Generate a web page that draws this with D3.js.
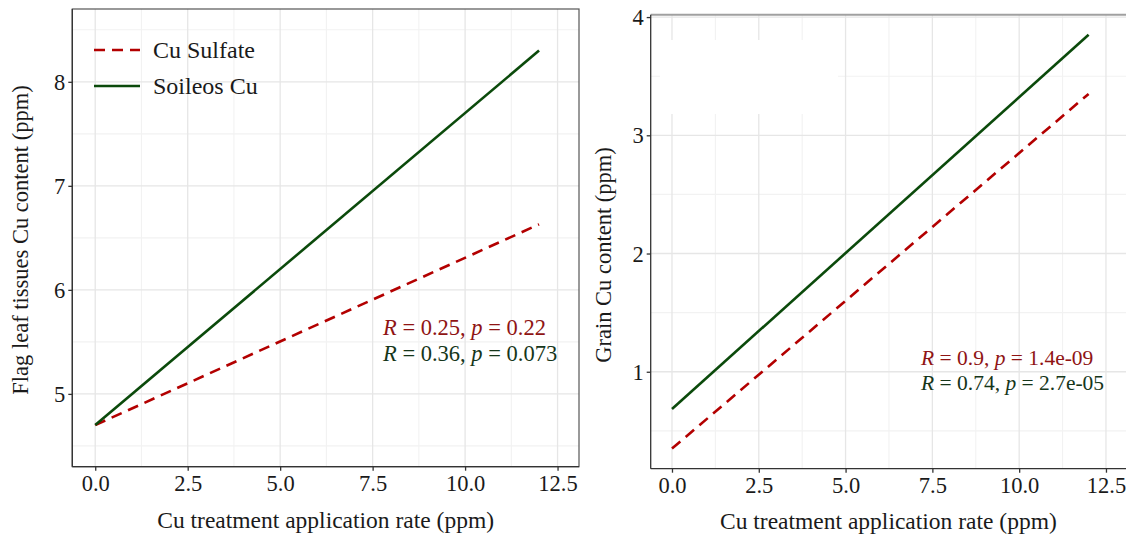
<!DOCTYPE html>
<html>
<head>
<meta charset="utf-8">
<script src="https://cdn.jsdelivr.net/npm/d3@7"></script>
<style>
  html, body { margin: 0; padding: 0; background: #fff; }
  svg { display: block; }
  text { font-family: "Liberation Serif", "DejaVu Serif", serif; }
</style>
</head>
<body>
<svg id="chart" width="1126" height="536"></svg>
<script>
// ---- data ----
const seriesNames = ["Cu Sulfate", "Soileos Cu"];
const xEnds = [0, 12];
const leafSulfate = [4.70, 6.63];
const leafSoileos = [4.70, 8.30];
const grainSulfate = [0.35, 3.35];
const grainSoileos = [0.685, 3.85];
const xTicks = [0, 2.5, 5, 7.5, 10, 12.5];
const xMinor = [1.25, 3.75, 6.25, 8.75, 11.25];
const leafTicks = [5, 6, 7, 8];
const leafMinor = [4.5, 5.5, 6.5, 7.5, 8.5];
const grainTicks = [1, 2, 3, 4];
const grainMinor = [0.5, 1.5, 2.5, 3.5];
const leafStats = ["0.25", "0.22", "0.36", "0.073"];
const grainStats = ["0.9", "1.4e-09", "0.74", "2.7e-05"];
const xTitle = "Cu treatment application rate (ppm)";
const leafTitle = "Flag leaf tissues Cu content (ppm)";
const grainTitle = "Grain Cu content (ppm)";

const RED = "#b30000", GREEN = "#0b4a0b";
const RED_T = "#8f1414", GREEN_T = "#16361a";
const svg = d3.select("#chart");

function panel(cfg) {
  const { x, y, left, right, top, bottom } = cfg;
  const g = svg.append("g");
  // minor grid
  g.selectAll(".vmin").data(cfg.xMinor).join("line")
    .attr("x1", d => x(d)).attr("x2", d => x(d)).attr("y1", top).attr("y2", bottom)
    .attr("stroke", "#f2f2f2").attr("stroke-width", 1.1);
  g.selectAll(".hmin").data(cfg.yMinor).join("line")
    .attr("x1", left).attr("x2", right).attr("y1", d => y(d)).attr("y2", d => y(d))
    .attr("stroke", "#f2f2f2").attr("stroke-width", 1.1);
  // major grid
  g.selectAll(".vmaj").data(cfg.xTicks).join("line")
    .attr("x1", d => x(d)).attr("x2", d => x(d)).attr("y1", top).attr("y2", bottom)
    .attr("stroke", "#e6e6e6").attr("stroke-width", 1.3);
  g.selectAll(".hmaj").data(cfg.yTicks).join("line")
    .attr("x1", left).attr("x2", right).attr("y1", d => y(d)).attr("y2", d => y(d))
    .attr("stroke", "#e6e6e6").attr("stroke-width", 1.3);
  if (cfg.mask) {
    g.append("rect").attr("x", cfg.mask[0]).attr("y", cfg.mask[1])
      .attr("width", cfg.mask[2]).attr("height", cfg.mask[3]).attr("fill", "#fff");
  }
  // lines
  const line = d3.line().x(d => x(d[0])).y(d => y(d[1]));
  g.append("path").datum(xEnds.map((v, i) => [v, cfg.sulfate[i]]))
    .attr("d", line).attr("fill", "none").attr("stroke", RED)
    .attr("stroke-width", 2.6).attr("stroke-dasharray", "11,7");
  g.append("path").datum(xEnds.map((v, i) => [v, cfg.soileos[i]]))
    .attr("d", line).attr("fill", "none").attr("stroke", GREEN)
    .attr("stroke-width", 2.6);
  // border
  if (cfg.fullBorder) {
    g.append("rect").attr("x", left).attr("y", top).attr("width", right - left).attr("height", bottom - top)
      .attr("fill", "none").attr("stroke", "#555").attr("stroke-width", 1.2);
  } else {
    g.append("line").attr("x1", left).attr("x2", right).attr("y1", top).attr("y2", top)
      .attr("stroke", "#a0a0a0").attr("stroke-width", 2);
  }
  // axes
  const ax = g.append("g").attr("transform", `translate(0,${bottom})`)
    .call(d3.axisBottom(x).tickValues(cfg.xTicks).tickFormat(d3.format(".1f")).tickSize(4).tickPadding(4));
  const ay = g.append("g").attr("transform", `translate(${left},0)`)
    .call(d3.axisLeft(y).tickValues(cfg.yTicks).tickFormat(d3.format("d")).tickSize(4).tickPadding(3));
  [ax, ay].forEach(a => {
    a.select(".domain").attr("stroke", "#333").attr("stroke-width", 1.3);
    a.selectAll(".tick line").attr("stroke", "#333").attr("stroke-width", 1.3);
    a.selectAll(".tick text").attr("fill", "#1a1a1a").style("font-size", "22.5px")
      .style("font-family", "Liberation Serif, serif");
  });
  ay.selectAll(".tick text").attr("dy", "0.34em");
  ax.select(".domain").attr("d", `M${left},0H${right}`);
  ay.select(".domain").attr("d", `M0,${bottom}V${top}`);
  // annotations
  const st = cfg.stats;
  const ann = [[RED_T, st[0], st[1]], [GREEN_T, st[2], st[3]]];
  ann.forEach((a, i) => {
    const t = g.append("text").attr("x", cfg.annX).attr("y", cfg.annY[i])
      .attr("fill", a[0]).style("font-size", cfg.annSize);
    t.append("tspan").attr("font-style", "italic").text("R");
    t.append("tspan").text(" = " + a[1] + ", ");
    t.append("tspan").attr("font-style", "italic").text("p");
    t.append("tspan").text(" = " + a[2]);
  });
  // titles
  g.append("text").attr("x", (left + right) / 2).attr("y", cfg.xTitleY)
    .attr("text-anchor", "middle").attr("fill", "#1a1a1a").style("font-size", "23.5px").text(xTitle);
  g.append("text").attr("transform", `translate(${cfg.yTitleX},${cfg.yTitleCY}) rotate(-90)`)
    .attr("text-anchor", "middle").attr("fill", "#1a1a1a").style("font-size", "22.5px").text(cfg.yTitle);
}

// left panel
const xL = d3.scaleLinear().domain([-0.62, 13.08]).range([72.3, 579]);
const yL = d3.scaleLinear().domain([4.30, 8.70]).range([466.7, 9]);
panel({ x: xL, y: yL, left: 72.3, right: 579, top: 9, bottom: 466.7,
  xTicks, xMinor, yTicks: leafTicks, yMinor: leafMinor,
  sulfate: leafSulfate, soileos: leafSoileos, fullBorder: true,
  stats: leafStats, annX: 383, annY: [335, 361], annSize: "22.5px",
  xTitleY: 528, yTitleX: 28, yTitleCY: 240, yTitle: leafTitle });

// right panel
const xR = d3.scaleLinear().domain([-0.613, 13.08]).range([650.7, 1126.1]);
const yR = d3.scaleLinear().domain([0.18, 4.02]).range([468.7, 14.7]);
panel({ x: xR, y: yR, left: 650.7, right: 1126.1, top: 14.7, bottom: 468.7,
  xTicks, xMinor, yTicks: grainTicks, yMinor: grainMinor,
  sulfate: grainSulfate, soileos: grainSoileos, fullBorder: false,
  mask: [660, 40, 178, 74],
  stats: grainStats, annX: 921, annY: [365, 390], annSize: "21.5px",
  xTitleY: 529, yTitleX: 611, yTitleCY: 255, yTitle: grainTitle });

// legend
const leg = svg.append("g");
const legY = d3.scalePoint().domain(seriesNames).range([50, 86]);
seriesNames.forEach((n, i) => {
  leg.append("line").attr("x1", 94).attr("x2", 140).attr("y1", legY(n)).attr("y2", legY(n))
    .attr("stroke", i === 0 ? RED : GREEN).attr("stroke-width", 2.6)
    .attr("stroke-dasharray", i === 0 ? "11,7" : null);
  leg.append("text").attr("x", 153).attr("y", legY(n)).attr("dy", "0.35em")
    .attr("fill", "#1a1a1a").style("font-size", "24px").text(n);
});
</script>
</body>
</html>
